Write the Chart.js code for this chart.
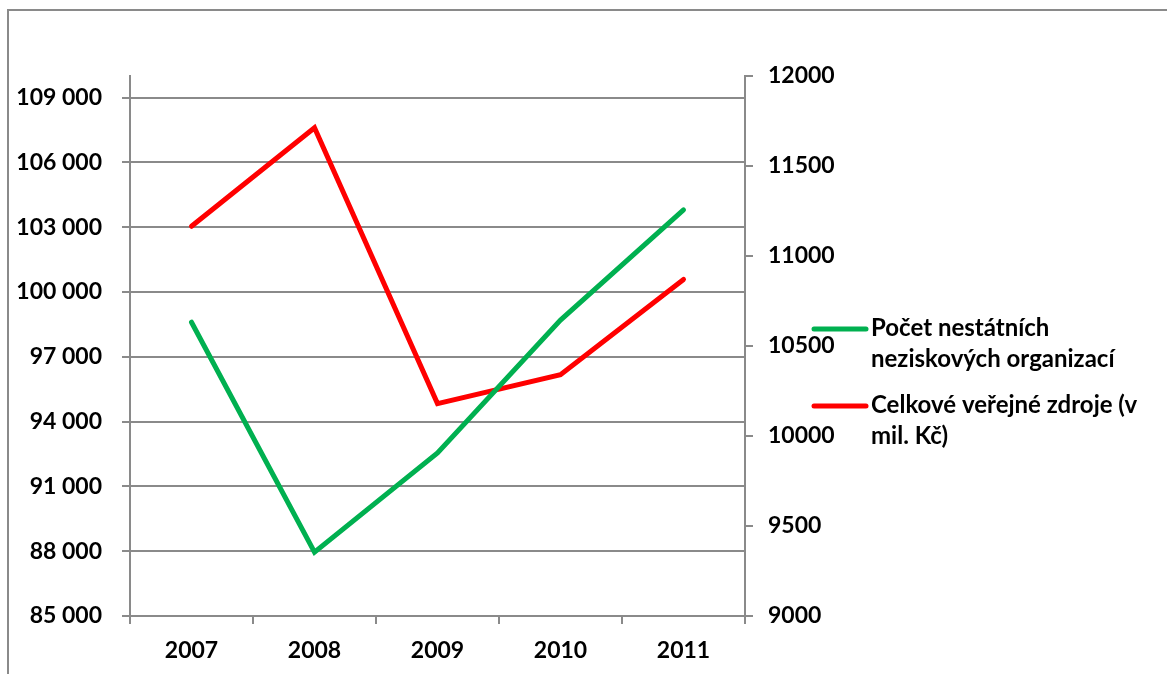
<!DOCTYPE html>
<html>
<head>
<meta charset="utf-8">
<script src="https://cdn.jsdelivr.net/npm/chart.js@4"></script>
<style>
    body { margin: 0; background: #fff; }
    #wrap { width: 1167px; height: 674px; }
</style>
</head>
<body>
<div id="wrap"><canvas id="graf"></canvas></div>
<script>
const roky = ['2007', '2008', '2009', '2010', '2011'];
const pocetOrganizaci = [98600, 87950, 92550, 98700, 103800];
const verejneZdroje = [11165, 11712, 10180, 10340, 10870];
const levaOsaTicks = [85000, 88000, 91000, 94000, 97000, 100000, 103000, 106000, 109000];
const pravaOsaTicks = [9000, 9500, 10000, 10500, 11000, 11500, 12000];

const pismo = 'Lato, "DejaVu Sans", sans-serif';
const seda = '#8a8a8a';

// ramecek kolem grafu + legenda vpravo
const ramecekALegenda = {
    id: 'ramecekALegenda',
    afterDraw(chart) {
        const ctx = chart.ctx;
        ctx.save();
        ctx.strokeStyle = seda;
        ctx.lineWidth = 2;
        ctx.beginPath();
        ctx.moveTo(8, 674);
        ctx.lineTo(8, 10);
        ctx.lineTo(1167, 10);
        ctx.stroke();

        const polozky = [
            { y: 329, radky: ['Počet nestátních', 'neziskových organizací'] },
            { y: 406, radky: ['Celkové veřejné zdroje (v', 'mil. Kč)'] }
        ];
        ctx.font = 'bold 24px ' + pismo;
        ctx.textBaseline = 'middle';
        ctx.fillStyle = '#000';
        polozky.forEach((p, i) => {
            ctx.strokeStyle = chart.data.datasets[i].borderColor;
            ctx.lineWidth = 5;
            ctx.lineCap = 'round';
            ctx.beginPath();
            ctx.moveTo(814, p.y);
            ctx.lineTo(866, p.y);
            ctx.stroke();
            p.radky.forEach((t, j) => ctx.fillText(t, 871, p.y - 1 + j * 31));
        });
        ctx.restore();
    }
};

new Chart(document.getElementById('graf'), {
    type: 'line',
    data: {
        labels: roky,
        datasets: [
            {
                label: 'Počet nestátních neziskových organizací',
                data: pocetOrganizaci,
                borderColor: '#00b050',
                borderWidth: 5,
                pointRadius: 0,
                yAxisID: 'y',
                borderCapStyle: 'round'
            },
            {
                label: 'Celkové veřejné zdroje (v mil. Kč)',
                data: verejneZdroje,
                borderColor: '#ff0000',
                borderWidth: 5,
                pointRadius: 0,
                yAxisID: 'y2',
                borderCapStyle: 'round'
            }
        ]
    },
    options: {
        responsive: true,
        maintainAspectRatio: false,
        animation: false,
        layout: { padding: { top: 76, left: 0, right: 0, bottom: 0 } },
        plugins: {
            legend: { display: false },
            tooltip: { enabled: false }
        },
        scales: {
            x: {
                offset: true,
                grid: { drawOnChartArea: false, drawTicks: true, tickLength: 8, color: seda, lineWidth: 2, offset: true },
                border: { color: seda, width: 2 },
                ticks: { color: '#000', font: { family: pismo, size: 23, weight: 'bold' }, padding: 13 },
                afterFit(scale) { scale.height = 58; }
            },
            y: {
                position: 'left',
                min: 85000,
                max: 110000,
                afterBuildTicks(scale) { scale.ticks = levaOsaTicks.map(v => ({ value: v })); },
                grid: { color: seda, lineWidth: 2, drawTicks: true, tickLength: 8 },
                border: { color: seda, width: 2 },
                ticks: {
                    color: '#000',
                    font: { family: pismo, size: 23, weight: 'bold' },
                    padding: 20,
                    callback: v => String(v).replace(/\B(?=(\d{3})+(?!\d))/g, ' ')
                },
                afterFit(scale) { scale.width = 130; }
            },
            y2: {
                position: 'right',
                min: 9000,
                max: 12000,
                afterBuildTicks(scale) { scale.ticks = pravaOsaTicks.map(v => ({ value: v })); },
                grid: { drawOnChartArea: false, drawTicks: true, tickLength: 8, color: seda, lineWidth: 2 },
                border: { color: seda, width: 2 },
                ticks: {
                    color: '#000',
                    font: { family: pismo, size: 23, weight: 'bold' },
                    padding: 15,
                    callback: v => String(v)
                },
                afterFit(scale) { scale.width = 1167 - 745; }
            }
        }
    },
    plugins: [ramecekALegenda]
});
</script>
</body>
</html>
